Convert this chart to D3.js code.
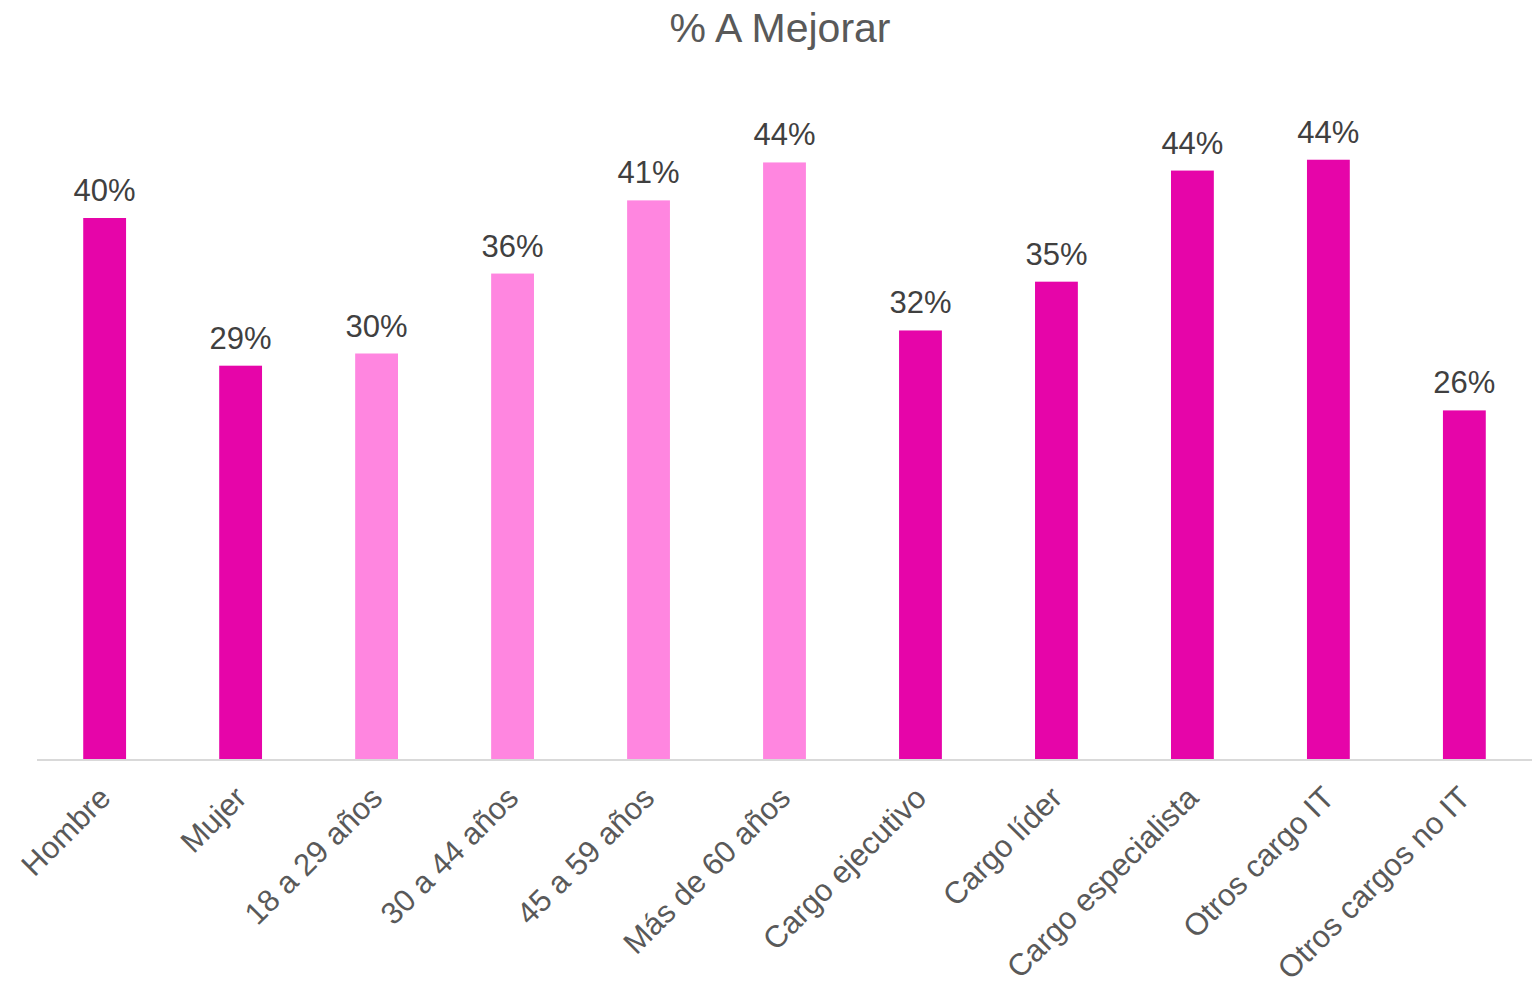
<!DOCTYPE html>
<html>
<head>
<meta charset="utf-8">
<script src="https://cdn.jsdelivr.net/npm/d3@7"></script>
<style>
  body { margin: 0; background: #fff; }
  text { font-family: "Liberation Sans", Arial, sans-serif; }
</style>
</head>
<body>
<div id="viz"></div>
<script>
(function() {

    var width = 1540;
    var height = 985;

    // categories, values (share) and which group each bar belongs to
    var categories = ["Hombre", "Mujer", "18 a 29 años", "30 a 44 años", "45 a 59 años",
        "Más de 60 años", "Cargo ejecutivo", "Cargo líder", "Cargo especialista",
        "Otros cargo IT", "Otros cargos no IT"];
    var values = [0.400, 0.291, 0.300, 0.359, 0.413, 0.441, 0.317, 0.353, 0.435, 0.443, 0.258];
    var groups = ["genero", "genero", "edad", "edad", "edad", "edad",
        "cargo", "cargo", "cargo", "cargo", "cargo"];

    var colors = { genero: "#E605A9", edad: "#FF86E0", cargo: "#E605A9" };

    var margin = { top: 80, right: 8, bottom: 225, left: 37 };

    var svg = d3.select("#viz")
        .append("svg")
        .attr("width", width)
        .attr("height", height);

    // title
    svg.append("text")
        .attr("x", 780)
        .attr("y", 42)
        .attr("text-anchor", "middle")
        .attr("font-size", "41px")
        .attr("fill", "#595959")
        .text("% A Mejorar");

    var x = d3.scaleBand()
        .domain(categories)
        .range([margin.left, width - margin.right])
        .paddingInner(0.685)
        .paddingOuter(0.34);

    var y = d3.scaleLinear()
        .domain([0, 0.5])
        .range([760, 82.5]);

    var data = categories.map(function(c, i) {
        return { name: c, value: values[i], group: groups[i] };
    });

    // bars
    svg.selectAll(".bar")
        .data(data)
        .enter().append("rect")
        .attr("class", "bar")
        .attr("x", function(d) { return x(d.name); })
        .attr("width", x.bandwidth())
        .attr("y", function(d) { return y(d.value); })
        .attr("height", function(d) { return y(0) - y(d.value); })
        .attr("fill", function(d) { return colors[d.group]; });

    // value labels
    svg.selectAll(".val")
        .data(data)
        .enter().append("text")
        .attr("class", "val")
        .attr("x", function(d) { return x(d.name) + x.bandwidth() / 2; })
        .attr("y", function(d) { return y(d.value) - 17; })
        .attr("text-anchor", "middle")
        .attr("font-size", "31px")
        .attr("fill", "#404040")
        .text(function(d) { return d3.format(".0%")(d.value); });

    // x axis
    var xAxis = svg.append("g")
        .attr("transform", "translate(0," + y(0) + ")")
        .call(d3.axisBottom(x).tickSize(0).tickSizeOuter(0));

    xAxis.select(".domain")
        .attr("stroke", "#d9d9d9")
        .attr("stroke-width", 2)
        .attr("d", "M37,0H1532");

    xAxis.selectAll(".tick text")
        .attr("font-size", "31px")
        .attr("font-family", "Liberation Sans, Arial, sans-serif")
        .attr("fill", "#595959")
        .attr("text-anchor", "end")
        .attr("x", 0)
        .attr("y", 0)
        .attr("dy", "0.35em")
        .attr("transform", "translate(0,32) rotate(-45)");

})();
</script>
</body>
</html>
